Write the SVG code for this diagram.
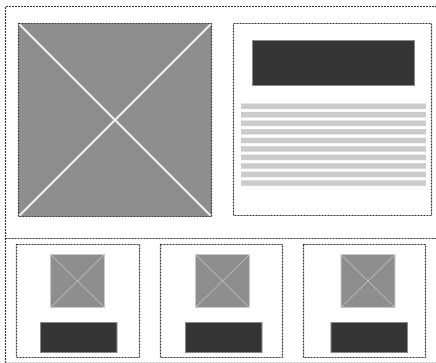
<svg xmlns="http://www.w3.org/2000/svg" width="436" height="363" viewBox="0 0 436 363">
<style>
.dash{fill:none;stroke:#333;stroke-width:1.2;stroke-dasharray:2,1}
.img{fill:#8e8e8e}
.bigx{stroke:#f4f4f4;stroke-width:2}
.smallimg{fill:#8e8e8e;stroke:#c8c8c8;stroke-width:1}
.smallx{stroke:#c4c4c4;stroke-width:1}
.dark{fill:#353535;stroke:#8a8a8a;stroke-width:1}
.line{fill:#cbcbcb}
</style>
<rect width="436" height="363" fill="#fff"/>
<g id="frame">
<path class="dash" d="M5.5,363 V6.5 H436"/>
<path class="dash" d="M5.5,238.5 H436"/>
<path d="M5.5,362.5 H436" stroke="#c8c8c8" stroke-width="1" stroke-dasharray="2,1" fill="none"/>
</g>
<g id="hero-image">
<rect class="img" x="18.5" y="23.5" width="193" height="193"/>
<line class="bigx" x1="19" y1="24" x2="211" y2="216"/>
<line class="bigx" x1="211" y1="24" x2="19" y2="216"/>
<rect class="dash" x="18.5" y="23.5" width="193" height="193"/>
</g>
<g id="text-panel">
<rect class="dash" x="233.5" y="23.5" width="198" height="192"/>
<rect class="dark" x="252.5" y="40.5" width="162" height="45"/>
<rect class="line" x="241" y="103.5" width="185" height="5.5"/>
<rect class="line" x="241" y="112" width="185" height="5.5"/>
<rect class="line" x="241" y="120.5" width="185" height="5.5"/>
<rect class="line" x="241" y="129" width="185" height="5.5"/>
<rect class="line" x="241" y="137.7" width="185" height="5.5"/>
<rect class="line" x="241" y="146.2" width="185" height="5.5"/>
<rect class="line" x="241" y="154.7" width="185" height="5.5"/>
<rect class="line" x="241" y="163.2" width="185" height="5.5"/>
<rect class="line" x="241" y="171.7" width="185" height="5.5"/>
<rect class="line" x="241" y="180.3" width="185" height="5.5"/>
</g>
<g id="card-1">
<rect class="dash" x="16.5" y="244.5" width="123" height="113"/>
<rect class="smallimg" x="50.5" y="254.5" width="54" height="53"/>
<line class="smallx" x1="51" y1="255" x2="104" y2="307"/>
<line class="smallx" x1="104" y1="255" x2="51" y2="307"/>
<rect class="dark" x="40.5" y="322.5" width="76.5" height="30"/>
</g>
<g id="card-2">
<rect class="dash" x="160.5" y="244.5" width="122" height="113"/>
<rect class="smallimg" x="195.5" y="254.5" width="54" height="53"/>
<line class="smallx" x1="196" y1="255" x2="249" y2="307"/>
<line class="smallx" x1="249" y1="255" x2="196" y2="307"/>
<rect class="dark" x="185.5" y="322.5" width="76.5" height="30"/>
</g>
<g id="card-3">
<rect class="dash" x="303.5" y="244.5" width="122" height="113"/>
<rect class="smallimg" x="341" y="254.5" width="54" height="53"/>
<line class="smallx" x1="341.5" y1="255" x2="394.5" y2="307"/>
<line class="smallx" x1="394.5" y1="255" x2="341.5" y2="307"/>
<rect class="dark" x="331" y="322.5" width="76.5" height="30"/>
</g>
<g id="connectors"/>
</svg>
